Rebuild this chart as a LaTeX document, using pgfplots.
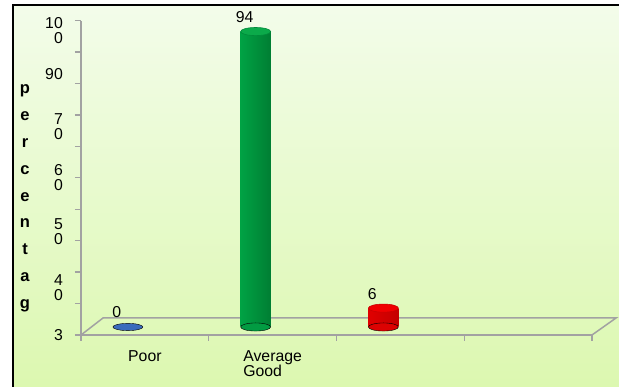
\documentclass[border=0pt]{standalone}
\usepackage{pgfplots}
\pgfplotsset{compat=1.18}
\usepackage{fontspec}
\setmainfont{Liberation Sans}

\definecolor{bgtop}{HTML}{F3FCEA}
\definecolor{bgbot}{HTML}{DCF8B0}
\definecolor{axgray}{HTML}{A2A2A2}
% cylinder colours
\definecolor{gL}{HTML}{00A244}
\definecolor{gM}{HTML}{18C45C}
\definecolor{gR}{HTML}{007E33}
\definecolor{gTop}{HTML}{0BAA4A}
\definecolor{gRim}{HTML}{008A3A}
\definecolor{gBase}{HTML}{029B42}
\definecolor{rL}{HTML}{E00000}
\definecolor{rM}{HTML}{FF1A1A}
\definecolor{rR}{HTML}{C40000}
\definecolor{rTop}{HTML}{F00000}
\definecolor{rRim}{HTML}{C80000}
\definecolor{rBase}{HTML}{DC0202}
\definecolor{bFill}{HTML}{3A6BBC}

\newcommand{\lblfont}{\fontsize{15.8}{15}\selectfont}

\begin{document}
\begin{tikzpicture}
\useasboundingbox (0pt,0pt) rectangle (619pt,387pt);
% chart area background and frame
\fill[white] (0pt,0pt) rectangle (619pt,387pt);
\shade[top color=bgtop, bottom color=bgbot] (13pt,0pt) rectangle (619pt,382pt);
\draw[black, line width=1.5pt] (13pt,0pt) -- (13pt,382pt) -- (619pt,382pt);

% vertical axis title, one letter per line
\foreach \l [count=\i] in {p,e,r,c,e,n,t,a,g}
  \node[anchor=base, inner sep=0pt, font=\fontsize{16.5}{15}\selectfont\bfseries]
    at (25pt, {(293-(\i-1)*26.8)*1pt}) {\l};

% axes, floor and category labels
\begin{axis}[
  at={(81pt,52pt)}, anchor=south west, scale only axis,
  width=511pt, height=314.3pt,
  xmin=-0.5, xmax=3.5, ymin=0, ymax=100,
  axis lines=left, axis line style={-, axgray, line width=1.5pt},
  clip=false,
  xtick={-0.5,0.5,1.5,2.5,3.5}, xticklabels={},
  ytick={0,10,...,100}, yticklabels={},
  tick align=outside, major tick length=6pt,
  tick style={axgray, line width=1.3pt},
  ticklabel style={font=\lblfont},
  extra x ticks={0,1},
  extra x tick labels={Poor,{Average\\Good}},
  extra x tick style={major tick length=0pt,
    xticklabel style={align=left, anchor=north, inner sep=0pt, yshift=-15pt}},
  extra y ticks={0,15.1,32.8,50.1,66.3,83,97},
  extra y tick labels={3,{4\\0},{5\\0},{6\\0},{7\\0},90,{10\\0}},
  extra y tick style={major tick length=0pt,
    yticklabel style={align=right, anchor=east, inner sep=0pt, xshift=-18pt}},
]
\draw[axgray, line width=1.5pt]
  (axis cs:-0.5,0) -- ++(22pt,17pt) -- ++(513pt,0pt) -- (axis cs:3.5,0);
\end{axis}

% cylinders, set back on the floor
\begin{axis}[
  at={(64pt,60pt)}, anchor=south west, scale only axis,
  width=511pt, height=314.3pt,
  xmin=-0.5, xmax=3.5, ymin=0, ymax=100,
  hide axis, clip=false,
  /pgf/number format/assume math mode=true,
  every node near coord/.append style={font=\lblfont, text=black,
    anchor=center, xshift=-11pt, yshift=14.5pt},
]
% Poor: 0
\addplot[only marks, mark=*, mark size=15pt,
  mark options={yscale=0.24, draw=none, fill=bFill},
  nodes near coords] coordinates {(0,0)};

% Average Good: 94
\addplot[only marks, mark=*, mark size=15pt,
  mark options={yscale=0.27, draw=none, fill=gBase}] coordinates {(1,0)};
\addplot[ybar, bar width=30pt, bar shift=0pt, draw=none,
  left color=gL, middle color=gM, right color=gR] coordinates {(1,94)};
\addplot[only marks, mark=*, mark size=15pt,
  mark options={yscale=0.27, draw=gRim, line width=0.6pt, fill=gTop},
  nodes near coords] coordinates {(1,94)};

% third category: 6
\addplot[only marks, mark=*, mark size=15pt,
  mark options={yscale=0.27, draw=none, fill=rBase}] coordinates {(2,0)};
\addplot[ybar, bar width=30pt, bar shift=0pt, draw=none,
  left color=rL, middle color=rM, right color=rR] coordinates {(2,6)};
\addplot[only marks, mark=*, mark size=15pt,
  mark options={yscale=0.27, draw=rRim, line width=0.6pt, fill=rTop},
  nodes near coords] coordinates {(2,6)};
\end{axis}
\end{tikzpicture}
\end{document}
